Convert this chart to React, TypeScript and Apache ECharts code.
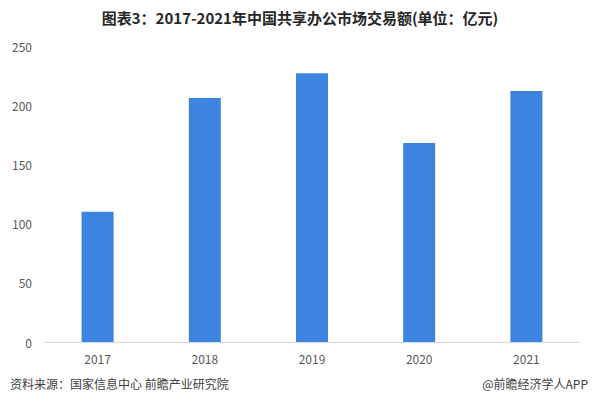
import React, { useEffect, useRef } from "react";
import * as echarts from "echarts";

const categories = ["2017", "2018", "2019", "2020", "2021"];
const values = [110, 206, 227, 168, 212];
const titleText = "图表3：2017-2021年中国共享办公市场交易额(单位：亿元)";
const sourceText = "资料来源：国家信息中心 前瞻产业研究院";
const brandText = "@前瞻经济学人APP";

export default function App() {
  const ref = useRef<HTMLDivElement>(null);
  useEffect(() => {
    if (!ref.current) return;
    const chart = echarts.init(ref.current, undefined, { renderer: "svg" });
    chart.setOption({
      animation: false,
      backgroundColor: "#ffffff",
      textStyle: { fontFamily: "'Noto Sans CJK SC', 'Noto Sans', sans-serif" },
      title: {
        text: titleText,
        left: "center",
        top: 5,
        textStyle: {
          fontSize: 15,
          fontWeight: "bold",
          color: "#262626",
          fontFamily: "'Noto Sans CJK SC', sans-serif",
        },
      },
      grid: { left: 44, right: 20, top: 46, bottom: 59, containLabel: false },
      xAxis: {
        type: "category",
        data: categories,
        axisLine: { show: true, lineStyle: { color: "#d9d9d9", width: 1 } },
        axisTick: { show: false },
        axisLabel: { color: "#595959", fontSize: 12, margin: 10 },
      },
      yAxis: {
        type: "value",
        min: 0,
        max: 250,
        interval: 50,
        axisLine: { show: false },
        axisTick: { show: false },
        splitLine: { show: false },
        axisLabel: { color: "#595959", fontSize: 12, margin: 12 },
      },
      series: [
        {
          type: "bar",
          data: values,
          barWidth: 32,
          itemStyle: { color: "#3d84e0" },
        },
      ],
      graphic: [
        {
          type: "text",
          left: 10,
          top: 377,
          style: {
            text: sourceText,
            fontSize: 12,
            fill: "#404040",
            fontFamily: "'Noto Sans CJK SC', sans-serif",
          },
        },
        {
          type: "text",
          right: 12,
          top: 377,
          style: {
            text: brandText,
            fontSize: 12,
            fill: "#404040",
            fontFamily: "'Noto Sans CJK SC', sans-serif",
          },
        },
      ],
    });
    return () => chart.dispose();
  }, []);
  return <div ref={ref} style={{ width: 600, height: 401, position: "absolute", left: 0, top: 0 }} />;
}
